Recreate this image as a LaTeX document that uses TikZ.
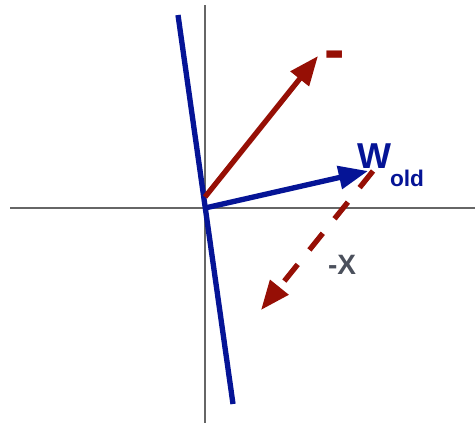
\documentclass[tikz,border=0pt]{standalone}
\usepackage{fontspec}
\setmainfont{Liberation Sans}
\usetikzlibrary{arrows.meta}
\definecolor{wblue}{RGB}{5,20,150}
\definecolor{xred}{RGB}{150,15,5}
\definecolor{xgray}{RGB}{75,80,92}
\begin{document}
\begin{tikzpicture}[x=0.75pt,y=-0.75pt,
  vec/.style={line width=4pt, -{Triangle[length=22pt,width=17pt]}},
  lbl/.style={inner sep=0pt, font=\bfseries}]
\useasboundingbox (0,0) rectangle (475,426);
% axes:
\coordinate (xl) at (10,208);  \coordinate (xr) at (475,208);
\coordinate (yt) at (205,5);   \coordinate (yb) at (205,423);
\draw[gray!80!black, line width=1.1pt] (xl) -- (xr);
\draw[gray!80!black, line width=1.1pt] (yt) -- (yb);
% boundary:
\coordinate (bt) at (178,15); \coordinate (bb) at (233,404);
\draw[wblue, line width=4pt] (bt) -- (bb);
% vectors:
\coordinate (O) at (205,208);
\coordinate (rs) at (205,197); \coordinate (rt) at (318,56);
\draw[vec, xred] (rs) -- (rt);
\coordinate (wt) at (368,171);
\draw[vec, wblue] (O) -- (wt);
\coordinate (ds) at (373,171); \coordinate (dt) at (261,310);
\draw[vec, xred, dash pattern=on 16pt off 14pt] (ds) -- (dt);
% labels:
\node[lbl, text=xred, font=\bfseries\fontsize{46}{46}\selectfont, anchor=base] (minus) at (335,70) {-};
\node[lbl, text=wblue, font=\bfseries\fontsize{27}{27}\selectfont, anchor=base] (w) at (374,168) {W};
\node[lbl, text=wblue, font=\bfseries\fontsize{17}{17}\selectfont, anchor=base] (old) at (407,186) {old};
\node[lbl, text=xgray, font=\bfseries\fontsize{21}{21}\selectfont, anchor=base] (negx) at (342,274) {-X};
\end{tikzpicture}
\end{document}
